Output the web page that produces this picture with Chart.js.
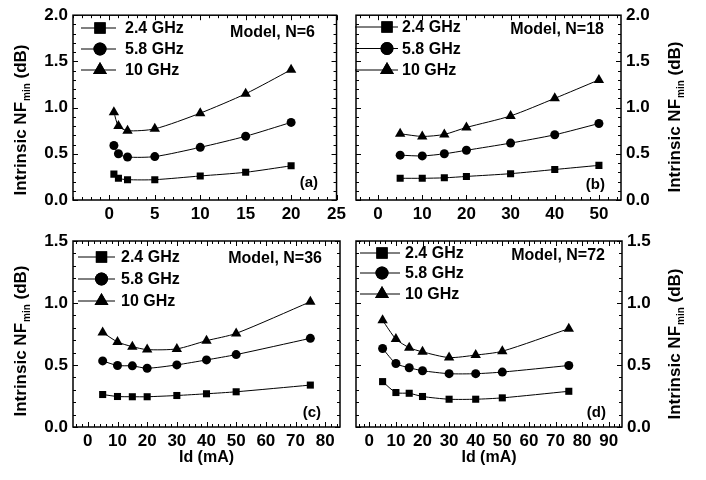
<!DOCTYPE html>
<html>
<head>
<meta charset="utf-8">
<script src="https://cdn.jsdelivr.net/npm/chart.js@4.4.1/dist/chart.umd.min.js"></script>
<style>
html, body { margin: 0; padding: 0; background: #fff; }
#wrap { position: relative; width: 706px; height: 480px; overflow: hidden; }
canvas { position: absolute; }
</style>
</head>
<body>
<div id="wrap">
  <canvas id="pa" width="350" height="232" style="left:0;top:0"></canvas>
  <canvas id="pb" width="356" height="232" style="left:350px;top:0"></canvas>
  <canvas id="pc" width="350" height="258" style="left:0;top:222px"></canvas>
  <canvas id="pd" width="356" height="258" style="left:350px;top:222px"></canvas>
</div>
<script>
var FONT = 'Liberation Sans, Arial, Helvetica, sans-serif';

// panel (a) Model, N=6
var idA = [0.5, 1, 2, 5, 10, 15, 20];
var nfA24 = [0.28, 0.235, 0.22, 0.22, 0.26, 0.30, 0.37];
var nfA58 = [0.59, 0.50, 0.465, 0.47, 0.57, 0.69, 0.84];
var nfA10 = [0.95, 0.80, 0.75, 0.77, 0.94, 1.15, 1.41];

// panel (b) Model, N=18
var idB = [5, 10, 15, 20, 30, 40, 50];
var nfB24 = [0.235, 0.235, 0.24, 0.255, 0.285, 0.33, 0.375];
var nfB58 = [0.485, 0.477, 0.50, 0.538, 0.616, 0.706, 0.828];
var nfB10 = [0.717, 0.688, 0.71, 0.785, 0.91, 1.10, 1.30];

// panel (c) Model, N=36
var idC = [5, 10, 15, 20, 30, 40, 50, 75];
var nfC24 = [0.262, 0.246, 0.244, 0.244, 0.254, 0.268, 0.284, 0.338];
var nfC58 = [0.533, 0.496, 0.493, 0.474, 0.501, 0.541, 0.584, 0.715];
var nfC10 = [0.763, 0.686, 0.648, 0.624, 0.63, 0.696, 0.755, 1.01];

// panel (d) Model, N=72
var idD = [5, 10, 15, 20, 30, 40, 50, 75];
var nfD24 = [0.366, 0.278, 0.272, 0.246, 0.224, 0.224, 0.235, 0.288];
var nfD58 = [0.633, 0.512, 0.478, 0.454, 0.43, 0.43, 0.443, 0.496];
var nfD10 = [0.86, 0.71, 0.64, 0.606, 0.56, 0.58, 0.611, 0.793];

var seriesNames = ['2.4 GHz', '5.8 GHz', '10 GHz'];
var xTicksA = [0, 5, 10, 15, 20, 25];
var xTicksB = [0, 10, 20, 30, 40, 50];
var xTicksC = [0, 10, 20, 30, 40, 50, 60, 70, 80];
var xTicksD = [0, 10, 20, 30, 40, 50, 60, 70, 80, 90];
var yTicksTop = [0, 0.5, 1.0, 1.5, 2.0];
var yTicksBot = [0, 0.5, 1.0, 1.5];

var markers = [['rect', 5], ['circle', 4.5], ['triangle', 6]];
var legendMarkers = [['rect', 8], ['circle', 6.5], ['triangle', 8]];

function range(a, b, step) {
  var out = [];
  for (var v = a; v <= b + 1e-9; v += step) out.push(Math.round(v * 1000) / 1000);
  return out;
}

function drawYTitle(ctx, cx, cy) {
  var big = 'bold 17px ' + FONT, small = 'bold 10px ' + FONT;
  ctx.save();
  ctx.translate(cx, cy);
  ctx.rotate(-Math.PI / 2);
  ctx.fillStyle = '#000';
  ctx.textBaseline = 'middle';
  ctx.textAlign = 'left';
  ctx.font = big;
  var w1 = ctx.measureText('Intrinsic NF').width;
  var w3 = ctx.measureText(' (dB)').width;
  ctx.font = small;
  var w2 = ctx.measureText('min').width + 1;
  var x = -(w1 + w2 + w3) / 2;
  ctx.font = big;
  ctx.fillText('Intrinsic NF', x, 0);
  ctx.font = small;
  ctx.fillText('min', x + w1 + 1, 6);
  ctx.font = big;
  ctx.fillText(' (dB)', x + w1 + w2, 0);
  ctx.restore();
}

function makePanel(id, p) {
  var ox = p.ox, oy = p.oy;
  var data = [p.s24, p.s58, p.s10];
  var datasets = data.map(function(vals, i) {
    return {
      label: seriesNames[i],
      data: p.xs.map(function(x, k) { return { x: x, y: vals[k] }; }),
      borderColor: '#000',
      backgroundColor: '#000',
      borderWidth: 1,
      pointStyle: markers[i][0],
      pointRadius: markers[i][1],
      pointBorderWidth: 0,
      tension: 0.25,
      fill: false
    };
  });

  var decor = {
    id: 'decor',
    afterDraw: function(chart) {
      var ctx = chart.ctx, ca = chart.chartArea;
      var xs = chart.scales.x, ys = chart.scales.y;
      ctx.save();
      ctx.strokeStyle = '#000';
      ctx.lineWidth = 1;
      function seg(x1, y1, x2, y2) { ctx.beginPath(); ctx.moveTo(x1, y1); ctx.lineTo(x2, y2); ctx.stroke(); }
      p.xMinor.forEach(function(v) {
        var len = p.xTicks.indexOf(v) >= 0 ? 5 : 3;
        var px = Math.round(xs.getPixelForValue(v)) + 0.5;
        seg(px, ca.bottom, px, ca.bottom - len);
        seg(px, ca.top, px, ca.top + len);
      });
      p.yMinor.forEach(function(v) {
        var len = p.yTicks.indexOf(v) >= 0 ? 5 : 3;
        var py = Math.round(ys.getPixelForValue(v)) + 0.5;
        seg(ca.left, py, ca.left + len, py);
        seg(ca.right, py, ca.right - len, py);
      });
      ctx.lineWidth = 1.5;
      ctx.strokeRect(ca.left, ca.top, ca.right - ca.left, ca.bottom - ca.top);

      // legend
      var L = p.legend;
      ctx.lineWidth = 1;
      for (var i = 0; i < 3; i++) {
        var ly = L.ys[i] - oy;
        seg(L.x0 - ox, ly, L.x1 - ox, ly);
        Chart.helpers.drawPoint(ctx, { pointStyle: legendMarkers[i][0], radius: legendMarkers[i][1], borderWidth: 0 }, L.mx - ox, ly);
        ctx.fillStyle = '#000';
        ctx.fill();
        ctx.font = 'bold 16px ' + FONT;
        ctx.textAlign = 'left';
        ctx.textBaseline = 'middle';
        ctx.fillText(seriesNames[i], L.tx - ox, ly + 1);
      }
      ctx.fillStyle = '#000';
      ctx.textAlign = 'right';
      ctx.textBaseline = 'middle';
      ctx.font = 'bold 16px ' + FONT;
      ctx.fillText(p.model, p.modelPos[0] - ox, p.modelPos[1] - oy);
      ctx.font = 'bold 15px ' + FONT;
      ctx.fillText(p.tag, p.tagPos[0] - ox, p.tagPos[1] - oy);

      drawYTitle(ctx, p.yTitle[0] - ox, p.yTitle[1] - oy);
      if (p.xTitle) {
        ctx.font = 'bold 16px ' + FONT;
        ctx.textAlign = 'center';
        ctx.fillText('Id (mA)', (ca.left + ca.right) / 2, p.xTitle - oy);
      }
      ctx.restore();
    }
  };

  var tickFont = { family: FONT, size: 17, weight: 'bold' };
  return new Chart(document.getElementById(id), {
    type: 'line',
    data: { datasets: datasets },
    options: {
      responsive: false,
      animation: false,
      devicePixelRatio: 1,
      layout: { padding: p.pad },
      plugins: { legend: { display: false }, tooltip: { enabled: false } },
      scales: {
        x: {
          type: 'linear',
          min: p.xMin, max: p.xMax,
          grid: { display: false, drawTicks: false },
          border: { display: false },
          afterBuildTicks: function(s) { s.ticks = p.xTicks.map(function(v) { return { value: v }; }); },
          afterFit: function(s) { s.height = p.xh; },
          ticks: { font: tickFont, color: '#000', padding: 4, maxRotation: 0, autoSkip: false,
                   callback: function(v) { return String(v); } }
        },
        y: {
          type: 'linear',
          position: p.yPos,
          min: 0, max: p.yMax,
          grid: { display: false, drawTicks: false },
          border: { display: false },
          afterBuildTicks: function(s) { s.ticks = p.yTicks.map(function(v) { return { value: v }; }); },
          afterFit: function(s) { s.width = p.yw; },
          ticks: { font: tickFont, color: '#000', padding: 5, autoSkip: false,
                   callback: function(v) { return Number(v).toFixed(1); } }
        }
      }
    },
    plugins: [decor]
  });
}

makePanel('pa', {
  ox: 0, oy: 0, xs: idA, s24: nfA24, s58: nfA58, s10: nfA10,
  xMin: -4, xMax: 25, xTicks: xTicksA, xMinor: range(-4, 25, 1),
  yMax: 2, yTicks: yTicksTop, yMinor: range(0, 2, 0.1),
  yPos: 'left', yw: 73, xh: 32, pad: { top: 14, right: 10, left: 0, bottom: 0 },
  legend: { ys: [28, 49, 70], x0: 81, x1: 116, mx: 100, tx: 125 },
  model: 'Model, N=6', modelPos: [315, 33], tag: '(a)', tagPos: [318, 183],
  yTitle: [21, 120]
});
makePanel('pb', {
  ox: 350, oy: 0, xs: idB, s24: nfB24, s58: nfB58, s10: nfB10,
  xMin: -5, xMax: 55, xTicks: xTicksB, xMinor: range(-4, 54, 2),
  yMax: 2, yTicks: yTicksTop, yMinor: range(0, 2, 0.1),
  yPos: 'right', yw: 85, xh: 32, pad: { top: 14, right: 0, left: 4, bottom: 0 },
  legend: { ys: [27, 48.5, 70], x0: 355, x1: 398, mx: 387, tx: 402 },
  model: 'Model, N=18', modelPos: [604, 30], tag: '(b)', tagPos: [605, 185],
  yTitle: [675, 117]
});
makePanel('pc', {
  ox: 0, oy: 222, xs: idC, s24: nfC24, s58: nfC58, s10: nfC10,
  xMin: -5, xMax: 85, xTicks: xTicksC, xMinor: range(-4, 84, 2),
  yMax: 1.5, yTicks: yTicksBot, yMinor: range(0, 1.5, 0.1),
  yPos: 'left', yw: 73, xh: 53, pad: { top: 19, right: 10, left: 0, bottom: 0 },
  legend: { ys: [257, 279, 301], x0: 78, x1: 115, mx: 101.5, tx: 121 },
  model: 'Model, N=36', modelPos: [322, 259], tag: '(c)', tagPos: [321, 413],
  yTitle: [21, 341], xTitle: 458
});
makePanel('pd', {
  ox: 350, oy: 222, xs: idD, s24: nfD24, s58: nfD58, s10: nfD10,
  xMin: -5, xMax: 95, xTicks: xTicksD, xMinor: range(-4, 94, 2),
  yMax: 1.5, yTicks: yTicksBot, yMinor: range(0, 1.5, 0.1),
  yPos: 'right', yw: 84, xh: 53, pad: { top: 19, right: 0, left: 5, bottom: 0 },
  legend: { ys: [253, 273, 294], x0: 360, x1: 400, mx: 382, tx: 405 },
  model: 'Model, N=72', modelPos: [605, 256], tag: '(d)', tagPos: [606, 413],
  yTitle: [675, 344], xTitle: 458
});
</script>
</body>
</html>
